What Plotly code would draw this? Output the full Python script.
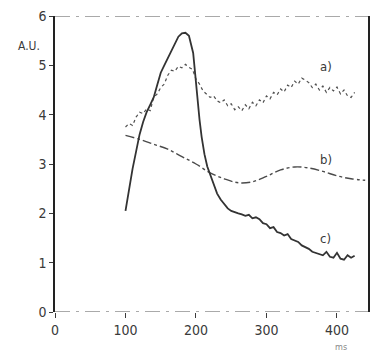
import plotly.graph_objects as go

# Time axis (ms) and signal traces (arbitrary units)
a_x = list(range(100, 430, 5))
a_y = [3.75, 3.82, 3.78, 3.95, 4.05, 4.02, 4.12, 4.08, 4.35, 4.42,
       4.55, 4.62, 4.80, 4.90, 4.88, 4.98, 4.95, 5.02, 4.96, 4.92,
       4.72, 4.62, 4.48, 4.42, 4.35, 4.38, 4.28, 4.24, 4.30, 4.18,
       4.22, 4.10, 4.16, 4.08, 4.20, 4.12, 4.25, 4.18, 4.30, 4.24,
       4.38, 4.32, 4.45, 4.40, 4.52, 4.46, 4.60, 4.55, 4.68, 4.62,
       4.74, 4.70, 4.65, 4.55, 4.62, 4.50, 4.58, 4.45, 4.55, 4.48,
       4.56, 4.42, 4.50, 4.38, 4.35, 4.45]

b_x = [100, 120, 140, 160, 180, 200, 220, 240, 260, 280, 300, 320,
       340, 360, 380, 400, 420, 440]
b_y = [3.58, 3.50, 3.40, 3.30, 3.15, 3.00, 2.82, 2.70, 2.62, 2.64,
       2.75, 2.88, 2.94, 2.92, 2.85, 2.76, 2.70, 2.67]

c_x = [100, 105, 110, 115, 120, 125, 130, 135, 140, 145, 150, 155,
       160, 165, 170, 175, 180, 185, 190, 193, 196, 199, 202, 205,
       208, 212, 216, 220, 225, 230, 235, 240, 245, 250, 255, 260,
       265, 270, 275, 280, 285, 290, 295, 300, 305, 310, 315, 320,
       325, 330, 335, 340, 345, 350, 355, 360, 365, 370, 375, 380,
       385, 390, 395, 400, 405, 410, 415, 420, 425]
c_y = [2.05, 2.50, 2.90, 3.25, 3.60, 3.85, 4.05, 4.20, 4.35, 4.60,
       4.85, 5.00, 5.15, 5.30, 5.45, 5.58, 5.65, 5.66, 5.60, 5.45,
       5.25, 4.80, 4.30, 3.90, 3.55, 3.20, 2.95, 2.80, 2.60, 2.40,
       2.28, 2.18, 2.10, 2.05, 2.02, 2.00, 1.98, 1.95, 1.97, 1.90,
       1.92, 1.88, 1.80, 1.78, 1.70, 1.72, 1.62, 1.60, 1.55, 1.58,
       1.48, 1.45, 1.42, 1.35, 1.32, 1.28, 1.22, 1.20, 1.18, 1.15,
       1.22, 1.12, 1.10, 1.20, 1.08, 1.06, 1.15, 1.10, 1.14]

labels = ["a)", "b)", "c)"]
label_x = [384, 384, 384]
label_y = [4.98, 3.10, 1.48]

x_ticks = [0, 100, 200, 300, 400]
y_ticks = [0, 1, 2, 3, 4, 5, 6]

INK = "#3a3a3a"
FONT = "Liberation Sans Narrow, DejaVu Sans Condensed, Arial Narrow, sans-serif"

fig = go.Figure()
fig.add_trace(go.Scatter(x=a_x, y=a_y, mode="lines",
                         line=dict(color="#505050", width=1.2, dash="dot")))
fig.add_trace(go.Scatter(x=b_x, y=b_y, mode="lines", line_shape="spline",
                         line=dict(color="#4a4a4a", width=1.4, dash="dashdot")))
fig.add_trace(go.Scatter(x=c_x, y=c_y, mode="lines",
                         line=dict(color="#333333", width=1.8)))

for t, lx, ly in zip(labels, label_x, label_y):
    fig.add_annotation(x=lx, y=ly, text=t, showarrow=False,
                       font=dict(size=13, color=INK, family=FONT))

# Top and bottom borders drawn as broken lines
for yy in (0, 6):
    fig.add_shape(type="line", xref="paper", yref="y", x0=0, x1=1, y0=yy, y1=yy,
                  line=dict(color="#555555", width=1, dash="longdashdot"))

fig.add_annotation(xref="paper", yref="paper", x=-0.04, y=0.9, text="A.U.",
                   xanchor="right", yanchor="middle",
                   showarrow=False, font=dict(size=12, color=INK, family=FONT))
fig.add_annotation(xref="x", yref="paper", x=405, y=-0.117, text="ms",
                   yanchor="middle",
                   showarrow=False, font=dict(size=9, color="#888888", family=FONT))

fig.update_layout(
    width=378, height=357,
    margin=dict(l=55, r=8, t=12, b=45),
    paper_bgcolor="white", plot_bgcolor="white",
    showlegend=False,
    font=dict(family=FONT, size=14, color=INK),
)
fig.update_xaxes(range=[0, 444], tickvals=x_ticks, ticks="outside", ticklen=5,
                 tickcolor=INK, showgrid=False, zeroline=False, showline=False,
                 tickfont=dict(size=14, color=INK))
fig.update_yaxes(range=[0, 6], tickvals=y_ticks, ticks="outside", ticklen=4,
                 tickcolor=INK, showgrid=False, zeroline=False, showline=True,
                 linecolor="#222222", linewidth=1.5, mirror=True,
                 tickfont=dict(size=14, color=INK))

fig.write_html("out.html")
